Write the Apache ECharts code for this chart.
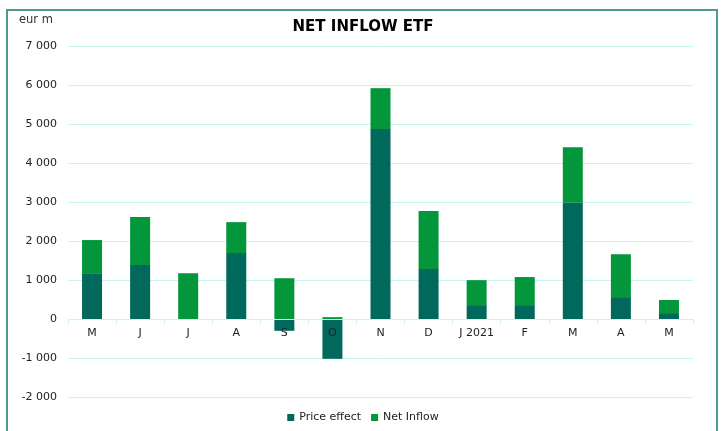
<!DOCTYPE html>
<html>
<head>
<meta charset="utf-8">
<script src="https://cdn.jsdelivr.net/npm/echarts@6/dist/echarts.min.js"></script>
<style>
	html, body { margin: 0; padding: 0; background: #fff; }
	#chart { width: 726px; height: 431px; }
</style>
</head>
<body>
<div id="chart"></div>
<script type="text/javascript">
	var months = ['M', 'J', 'J', 'A', 'S', 'O', 'N', 'D', 'J 2021', 'F', 'M', 'A', 'M'];
	var priceEffect = [1160, 1390, 0, 1695, -300, -1020, 4880, 1285, 360, 360, 2985, 565, 155];
	var netInflow = [870, 1230, 1180, 795, 1050, 50, 1050, 1490, 640, 720, 1430, 1100, 335];

	(function() {
		var chart = echarts.init(document.getElementById('chart'));

		function fmt(v) {
			var s = String(Math.abs(v));
			var out = s.replace(/\B(?=(\d{3})+(?!\d))/g, ' ');
			return (v < 0 ? '-' : '') + out;
		}

		// 0 line sits 2 steps above the grid bottom (-2000)
		var zeroOffset = -2 * (397 - 46.5) / 9;

		var option = {
			animation: false,
			textStyle: { fontFamily: 'DejaVu Sans' },
			title: {
				text: 'NET INFLOW ETF',
				left: 'center',
				top: 15,
				textStyle: { fontSize: 15, fontWeight: 'bold', color: '#000', fontFamily: 'DejaVu Sans' }
			},
			legend: {
				bottom: 3,
				left: 'center',
				itemWidth: 7,
				itemHeight: 7,
				itemGap: 10,
				itemTextGap: 4,
				icon: 'rect',
				textStyle: { fontSize: 11, color: '#222', fontFamily: 'DejaVu Sans' },
				data: ['Price effect', 'Net Inflow']
			},
			grid: {
				left: 68,
				right: 33,
				top: 46.5,
				bottom: 34
			},
			graphic: [{
				type: 'rect',
				shape: { x: 7, y: 10, width: 710, height: 430 },
				style: { fill: 'none', stroke: '#4e9a8f', lineWidth: 2 }
			}, {
				type: 'text',
				left: 19,
				top: 14,
				style: { text: 'eur m', fontSize: 11.5, fill: '#333', fontFamily: 'DejaVu Sans' }
			}],
			xAxis: {
				type: 'category',
				data: months,
				position: 'bottom',
				offset: zeroOffset,
				axisLine: { onZero: false, lineStyle: { color: '#c8f5ef', width: 1 } },
				axisTick: { show: true, length: 5, inside: false, lineStyle: { color: '#c8f5ef' } },
				axisLabel: { color: '#222', fontSize: 11, margin: 9 },
				z: 10
			},
			yAxis: {
				type: 'value',
				min: -2000,
				max: 7000,
				interval: 1000,
				axisLine: { show: false },
				axisTick: { show: false },
				axisLabel: { color: '#222', fontSize: 11, margin: 11, formatter: fmt },
				splitLine: { lineStyle: { color: '#c8f5ef', width: 1 } }
			},
			series: [{
				name: 'Price effect',
				type: 'bar',
				stack: 'total',
				barWidth: 20,
				itemStyle: { color: '#00695c' },
				data: priceEffect
			}, {
				name: 'Net Inflow',
				type: 'bar',
				stack: 'total',
				barWidth: 20,
				itemStyle: { color: '#03963b' },
				data: netInflow
			}]
		};
		chart.setOption(option);
	})();
</script>
</body>
</html>
